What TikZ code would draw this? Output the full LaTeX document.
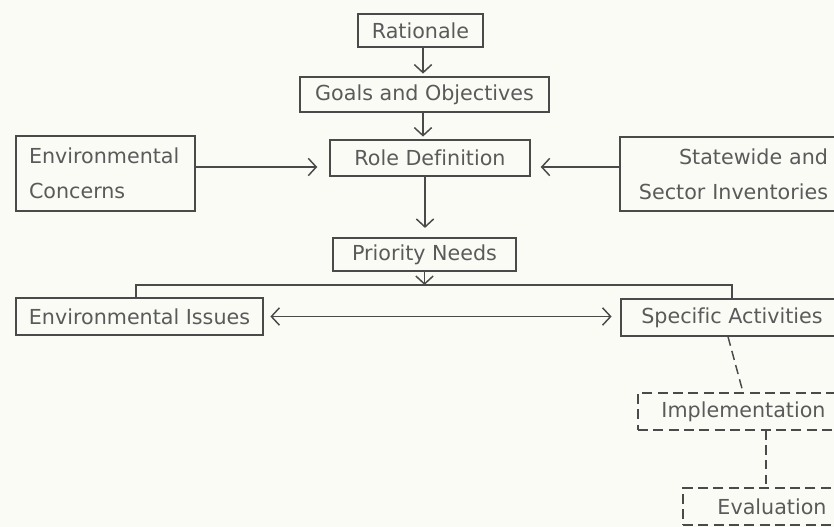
\documentclass[tikz,border=0pt]{standalone}
\usepackage{fontspec}
\setmainfont{DejaVu Sans}[Ligatures=NoCommon]
\usetikzlibrary{arrows.meta}
\definecolor{ink}{HTML}{4A4A4A}
\definecolor{txt}{HTML}{5A5A5A}
\definecolor{paper}{HTML}{FBFBF6}
\begin{document}
\begin{tikzpicture}[x=0.75pt,y=-0.75pt,
  box/.style={draw=ink, line width=1.1pt, inner sep=0pt, text=txt, font=\fontsize{15.5}{26}\selectfont},
  dbox/.style={box, dash pattern=on 7.5pt off 4pt},
  arr/.style={draw=ink, line width=1.1pt, -{Straight Barb[length=6pt,width=13pt]}},
  darr/.style={draw=ink, line width=1.1pt, {Straight Barb[length=6pt,width=13pt]}-{Straight Barb[length=6pt,width=13pt]}},
  dline/.style={draw=ink, line width=1.1pt, dash pattern=on 7pt off 4pt},
  ln/.style={draw=ink, line width=1.1pt}]
\fill[paper] (0,0) rectangle (834,527);
\useasboundingbox (0,0) rectangle (834,527);
\clip (0,0) rectangle (834,527);

\node[box, minimum width=93.75pt, minimum height=24.75pt] (rat) at (420.5,30.5) {Rationale};
\node[box, minimum width=186.75pt, minimum height=26.25pt] (goals) at (424.5,94.5) {Goals and Objectives};
\node[box, minimum width=150pt, minimum height=27pt] (role) at (430,158) {Role Definition};
\node[box, text width=114.75pt, align=left, inner xsep=9.75pt, minimum height=56.25pt] (env) at (105.5,173.5) {Environmental\\Concerns};
\node[box, text width=148.5pt, align=right, inner xsep=7.5pt, minimum height=55.5pt] (state) at (729,174) {Statewide and\\Sector Inventories};
\node[box, minimum width=137.25pt, minimum height=24.75pt] (prio) at (424.5,254.5) {Priority Needs};
\node[box, minimum width=185.25pt, minimum height=27.75pt] (envi) at (139.5,316.5) {Environmental Issues};
\node[box, minimum width=166.5pt, minimum height=27.75pt] (spec) at (732,317.5) {Specific Activities};
\node[dbox, minimum width=158.25pt, minimum height=27.75pt] (impl) at (743.5,411.5) {Implementation};
\node[dbox, minimum width=133.5pt, minimum height=27.75pt] (eval) at (772,506.5) {Evaluation};

\coordinate (cx) at (423,0);
\coordinate (cy) at (425,0);
\coordinate (y1) at (0,167);
\coordinate (y2) at (0,316.5);
\coordinate (bL) at (136,285);
\coordinate (bR) at (732,285);
\coordinate (bM) at (424.5,285);
\coordinate (d1) at (728,0);
\coordinate (d2) at (743,0);
\coordinate (d3) at (766,0);

\draw[arr, shorten >=2pt] (cx |- rat.south) -- (cx |- goals.north);
\draw[arr, shorten >=2pt] (cx |- goals.south) -- (cx |- role.north);
\draw[arr, shorten >=7pt] (cy |- role.south) -- (cy |- prio.north);
\draw[arr, shorten >=9pt] (env.east |- y1) -- (role.west |- y1);
\draw[arr, shorten >=7.5pt] (state.west |- y1) -- (role.east |- y1);
\draw[arr] (prio.south) -- (bM);
\draw[ln] (bL |- envi.north) -- (bL) -- (bR) -- (bR |- spec.north);
\draw[darr, shorten <=5pt, shorten >=6.5pt] (envi.east |- y2) -- (spec.west |- y2);
\draw[dline] (d1 |- spec.south) -- (d2 |- impl.north);
\draw[dline] (d3 |- impl.south) -- (d3 |- eval.north);
\end{tikzpicture}
\end{document}
